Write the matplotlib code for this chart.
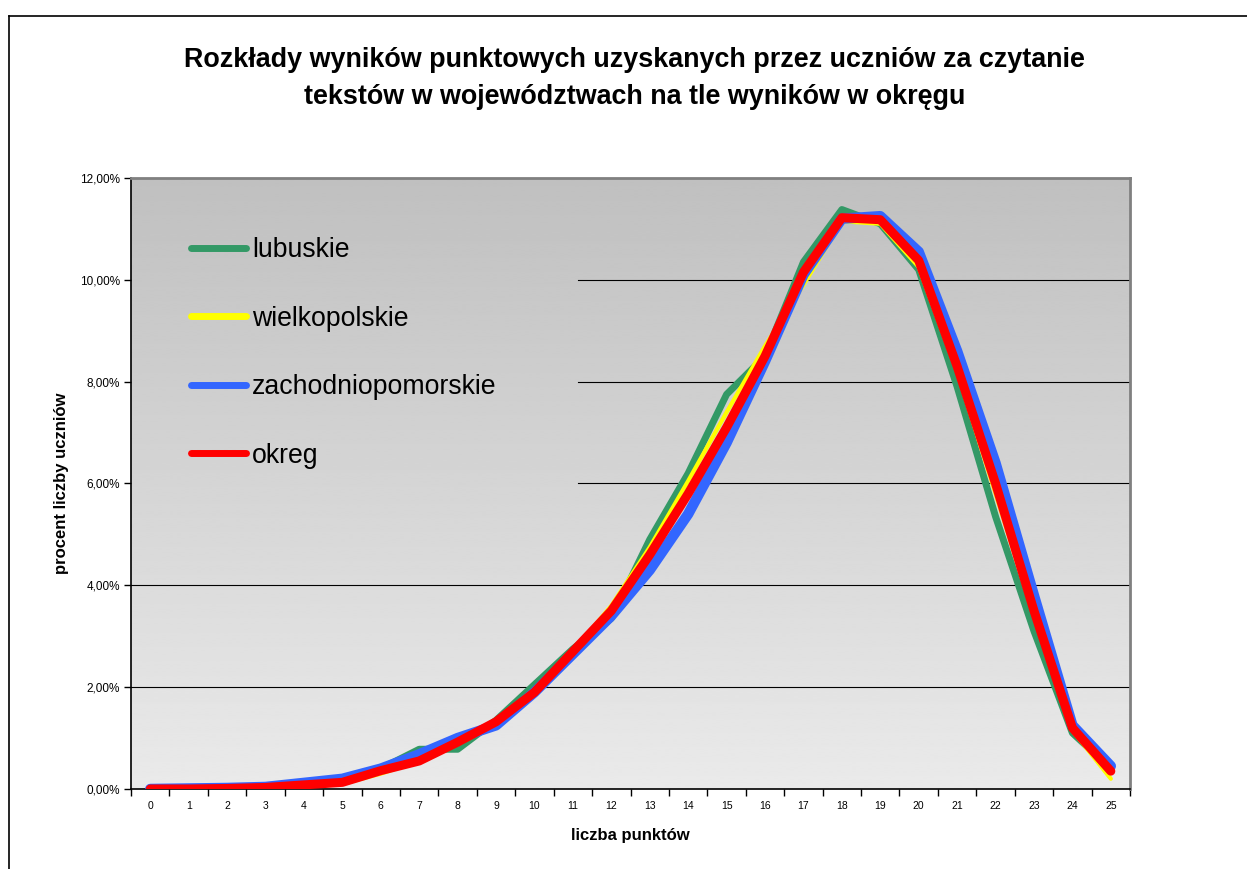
import numpy as np
import matplotlib.pyplot as plt
from matplotlib.lines import Line2D
from matplotlib.ticker import FuncFormatter

plt.rcParams['font.family'] = ['Liberation Sans', 'DejaVu Sans']

# data (percent of students per score)
points = list(range(26))
lubuskie = [0.0, 0.0, 0.01, 0.04, 0.10, 0.18, 0.40, 0.78, 0.78, 1.35, 2.05, 2.75, 3.35,
            4.90, 6.20, 7.75, 8.50, 10.35, 11.38, 11.10, 10.20, 7.90, 5.35, 3.10, 1.10, 0.40]
wielkopolskie = [0.0, 0.0, 0.01, 0.02, 0.05, 0.10, 0.30, 0.55, 0.88, 1.28, 1.85, 2.70, 3.60,
                 4.75, 6.05, 7.40, 8.70, 9.90, 11.15, 11.10, 10.25, 8.20, 5.80, 3.40, 1.15, 0.20]
zachodniopomorskie = [0.0, 0.01, 0.02, 0.04, 0.12, 0.20, 0.40, 0.68, 1.00, 1.25, 1.90, 2.65, 3.40,
                      4.30, 5.40, 6.80, 8.40, 10.10, 11.20, 11.25, 10.55, 8.60, 6.40, 3.80, 1.25, 0.45]
okreg = [0.0, 0.0, 0.01, 0.03, 0.08, 0.13, 0.36, 0.55, 0.92, 1.32, 1.90, 2.70, 3.50,
         4.60, 5.80, 7.10, 8.50, 10.15, 11.22, 11.18, 10.38, 8.30, 6.00, 3.50, 1.20, 0.35]

labels = ['lubuskie', 'wielkopolskie', 'zachodniopomorskie', 'okreg']
colors = ['#339966', '#ffff00', '#3366ff', '#ff0000']
widths = [5.0, 3.0, 7.5, 6.5]

fig = plt.figure(figsize=(12.47, 8.69), dpi=100)
ax = fig.add_axes([0.1051, 0.0921, 0.8011, 0.7031])

# gradient background of plot area (darker at the top)
grad = np.linspace(0, 1, 256).reshape(-1, 1)
ax.imshow(grad, cmap='gray', vmin=-4.56, vmax=1.5, aspect='auto', origin='upper',
          extent=[-0.5, 25.5, 0, 12], zorder=0, interpolation='bilinear')
ax.set_xlim(-0.5, 25.5)
ax.set_ylim(0, 12)

# gridlines (partly hidden behind the legend)
for g in [2, 4]:
    ax.axhline(g, color='black', lw=0.8, zorder=1)
for g in [6, 8, 10]:
    ax.axhline(g, xmin=0.447, color='black', lw=0.8, zorder=1)

for data, lab, c, w in zip([lubuskie, wielkopolskie, zachodniopomorskie, okreg], labels, colors, widths):
    ax.plot(points, data, color=c, lw=w, solid_capstyle='round', solid_joinstyle='round', zorder=3)

handles = [Line2D([0], [0], color=c, lw=5, solid_capstyle='round') for c in colors]
ax.legend(handles, labels, loc='upper left', bbox_to_anchor=(0.036, 0.942), frameon=False,
          fontsize=19.2, handlelength=2.05, handletextpad=0.25, labelspacing=1.59)

# axes styling
ax.spines['left'].set_color('black')
ax.spines['bottom'].set_color('black')
ax.spines['left'].set_linewidth(1.2)
ax.spines['bottom'].set_linewidth(1.2)
ax.spines['top'].set_color('#808080')
ax.spines['right'].set_color('#808080')
ax.spines['top'].set_linewidth(2)
ax.spines['right'].set_linewidth(2)

ax.set_yticks(np.arange(0, 13, 2))
ax.yaxis.set_major_formatter(FuncFormatter(lambda v, p: f'{v:.2f}%'.replace('.', ',')))
ax.tick_params(axis='y', direction='out', length=5, width=1, labelsize=8.5, pad=3)
ax.set_xticks(points)
ax.set_xticks(np.arange(-0.5, 26, 1), minor=True)
ax.tick_params(axis='x', which='major', length=0, labelsize=7.5, pad=9)
ax.tick_params(axis='x', which='minor', direction='out', length=5, width=1)

ax.set_xlabel('liczba punktów', fontsize=12, fontweight='bold', labelpad=12)
ax.set_ylabel('procent liczby uczniów', fontsize=12, fontweight='bold', labelpad=8)

fig.suptitle('Rozkłady wyników punktowych uzyskanych przez uczniów za czytanie\n'
             'tekstów w województwach na tle wyników w okręgu',
             fontsize=19.4, fontweight='bold', x=0.509, y=0.946, linespacing=1.57)

# outer chart border
fig.add_artist(Line2D([9 / 1247, 9 / 1247], [0, 1 - 16 / 869], transform=fig.transFigure, color='black', lw=1.2))
fig.add_artist(Line2D([9 / 1247, 1], [1 - 16 / 869, 1 - 16 / 869], transform=fig.transFigure, color='black', lw=1.2))

fig.savefig('out.png', dpi=100)
